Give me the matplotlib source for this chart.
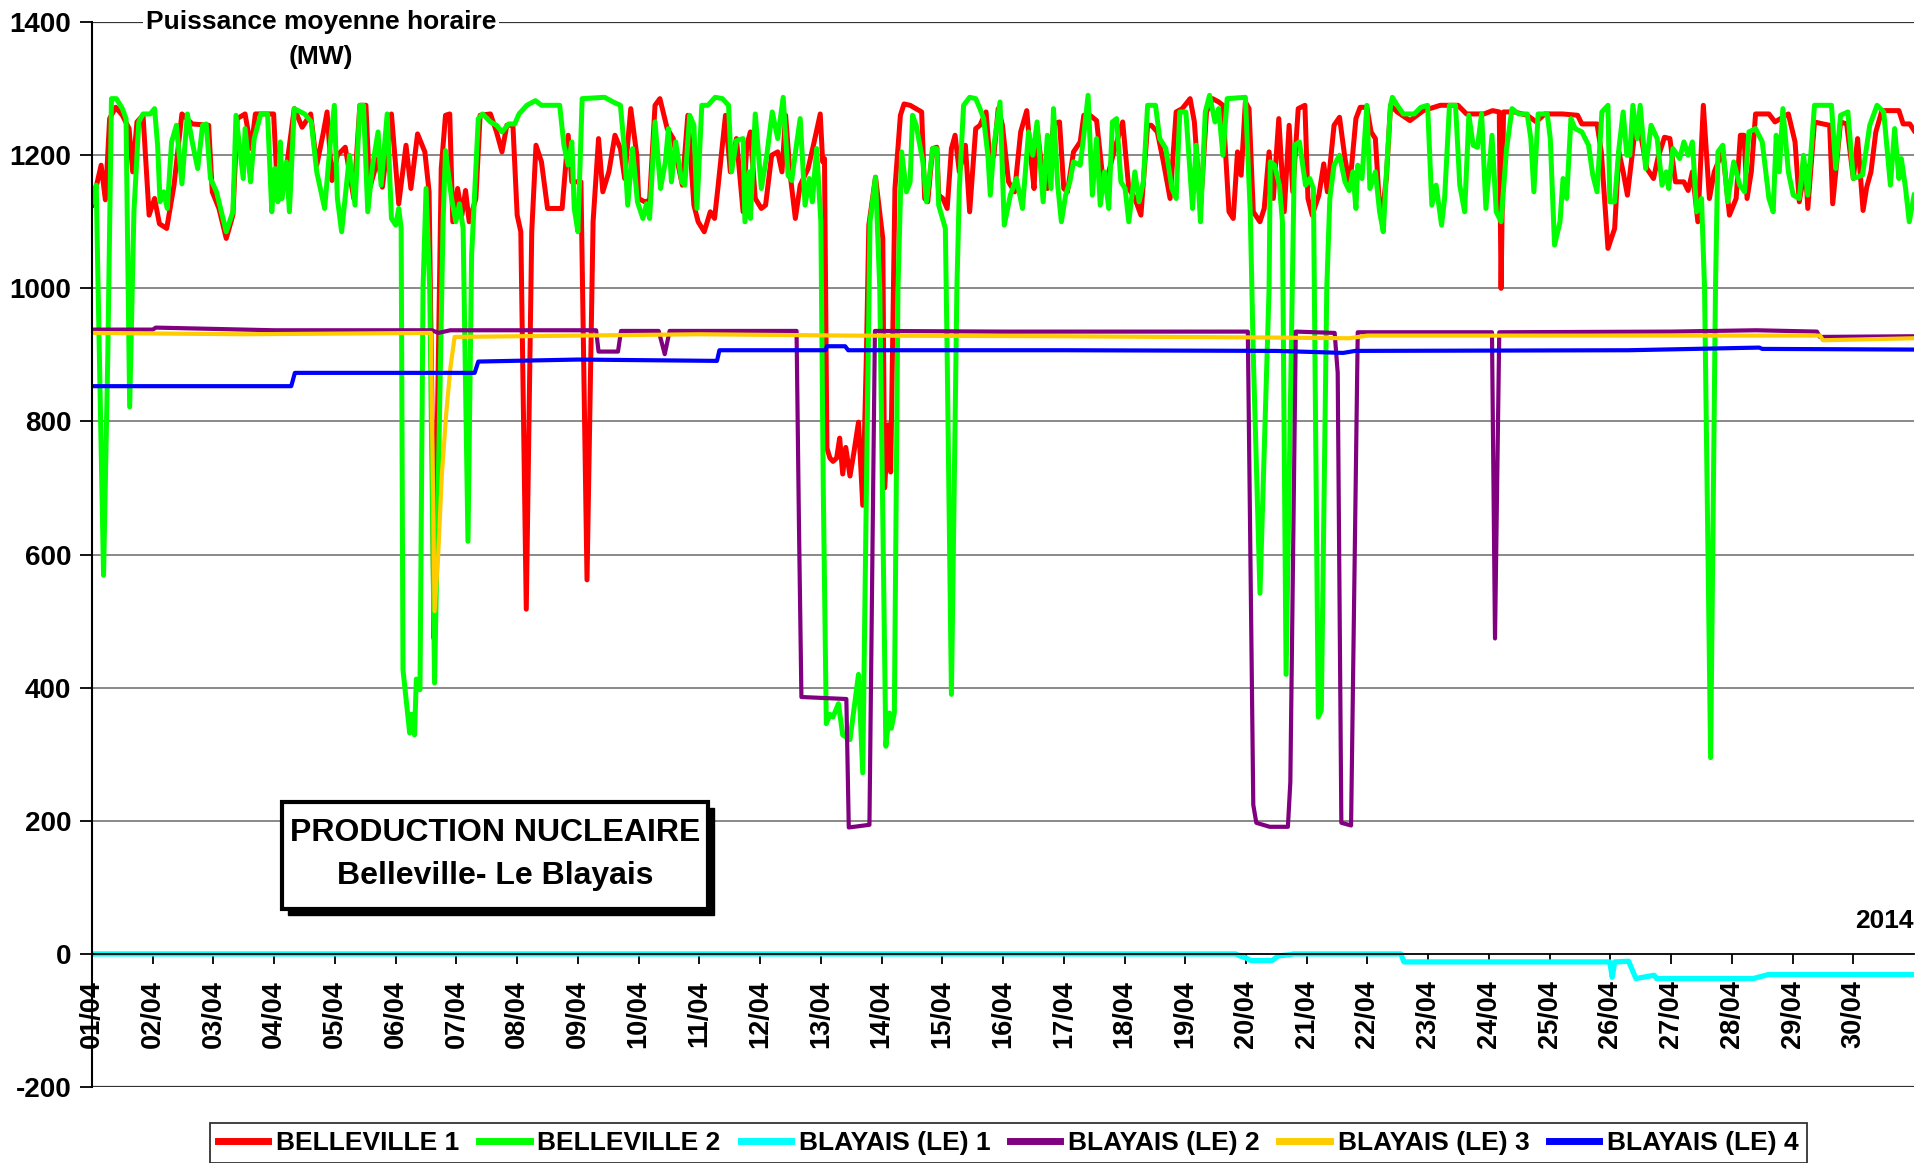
import matplotlib.pyplot as plt
from matplotlib.patches import Rectangle
from matplotlib.lines import Line2D

# hourly mean power (MW), x in days since 01/04 00:00
belleville1 = [(0.00, 1125), (0.15, 1185), (0.22, 1133), (0.29, 1255), (0.39, 1272), (0.50, 1260), (0.61, 1240),
               (0.67, 1175), (0.74, 1250), (0.84, 1260), (0.94, 1110), (1.03, 1135), (1.11, 1097), (1.23, 1090),
               (1.35, 1155), (1.48, 1262), (1.65, 1247), (1.92, 1245), (1.98, 1145), (2.09, 1120), (2.21, 1075),
               (2.32, 1110), (2.39, 1255), (2.52, 1262), (2.62, 1210), (2.69, 1262), (2.99, 1262), (3.06, 1135),
               (3.20, 1180), (3.33, 1270), (3.46, 1242), (3.60, 1262), (3.70, 1185), (3.80, 1230), (3.87, 1265),
               (3.95, 1162), (4.04, 1200), (4.17, 1212), (4.31, 1135), (4.41, 1275), (4.51, 1275), (4.57, 1150),
               (4.71, 1195), (4.78, 1152), (4.93, 1262), (5.05, 1127), (5.17, 1215), (5.25, 1150), (5.36, 1232),
               (5.48, 1205), (5.55, 1145), (5.60, 800), (5.63, 474), (5.68, 760), (5.75, 1180), (5.82, 1260),
               (5.89, 1262), (5.94, 1100), (6.02, 1150), (6.09, 1110), (6.15, 1147), (6.21, 1100), (6.32, 1135),
               (6.39, 1260), (6.56, 1262), (6.66, 1235), (6.75, 1205), (6.83, 1245), (6.93, 1245), (7.00, 1110),
               (7.06, 1085), (7.15, 518), (7.24, 1085), (7.31, 1215), (7.40, 1190), (7.50, 1120), (7.74, 1120),
               (7.84, 1230), (7.90, 1160), (8.05, 1160), (8.15, 562), (8.25, 1100), (8.34, 1225), (8.41, 1145),
               (8.51, 1175), (8.61, 1230), (8.70, 1210), (8.77, 1165), (8.87, 1270), (8.97, 1200), (9.00, 1135),
               (9.10, 1130), (9.18, 1132), (9.27, 1275), (9.35, 1285), (9.47, 1240), (9.57, 1225), (9.64, 1190),
               (9.72, 1155), (9.81, 1260), (9.91, 1125), (9.98, 1100), (10.08, 1085), (10.18, 1115), (10.25, 1105),
               (10.31, 1155), (10.43, 1260), (10.51, 1175), (10.61, 1225), (10.72, 1115), (10.78, 1215),
               (10.84, 1235), (10.92, 1135), (11.02, 1120), (11.09, 1125), (11.19, 1200), (11.29, 1205),
               (11.36, 1175), (11.42, 1260), (11.49, 1175), (11.58, 1105), (11.66, 1155), (11.79, 1180),
               (11.89, 1220), (11.99, 1262), (12.03, 1190), (12.06, 1195), (12.10, 760), (12.15, 745), (12.20, 740),
               (12.26, 745), (12.31, 775), (12.36, 721), (12.41, 761), (12.48, 718), (12.54, 751), (12.62, 799),
               (12.69, 674), (12.75, 900), (12.79, 1095), (12.90, 1167), (13.02, 1075), (13.05, 700), (13.11, 795),
               (13.15, 724), (13.22, 1150), (13.31, 1260), (13.37, 1277), (13.47, 1275), (13.66, 1265),
               (13.71, 1135), (13.76, 1130), (13.84, 1210), (13.91, 1212), (13.94, 1140), (14.01, 1135),
               (14.08, 1120), (14.15, 1210), (14.21, 1230), (14.28, 1175), (14.38, 1215), (14.45, 1115),
               (14.55, 1240), (14.62, 1245), (14.72, 1265), (14.79, 1185), (14.85, 1200), (14.92, 1270),
               (14.99, 1245), (15.09, 1160), (15.19, 1145), (15.29, 1235), (15.39, 1267), (15.46, 1195),
               (15.51, 1150), (15.56, 1240), (15.66, 1165), (15.73, 1150), (15.83, 1247), (15.93, 1250),
               (16.00, 1150), (16.06, 1145), (16.16, 1205), (16.27, 1220), (16.33, 1260), (16.43, 1260),
               (16.54, 1252), (16.64, 1167), (16.74, 1175), (16.84, 1210), (16.97, 1250), (17.07, 1150),
               (17.17, 1135), (17.27, 1110), (17.38, 1245), (17.44, 1245), (17.54, 1235), (17.64, 1190),
               (17.75, 1135), (17.85, 1265), (17.95, 1270), (18.08, 1285), (18.15, 1250), (18.25, 1120),
               (18.35, 1265), (18.45, 1285), (18.55, 1280), (18.62, 1275), (18.65, 1225), (18.72, 1115),
               (18.79, 1105), (18.86, 1205), (18.92, 1170), (18.99, 1280), (19.05, 1270), (19.12, 1115),
               (19.23, 1100), (19.30, 1120), (19.38, 1205), (19.45, 1135), (19.54, 1255), (19.63, 1115),
               (19.71, 1245), (19.77, 1145), (19.86, 1270), (19.97, 1275), (20.02, 1135), (20.09, 1110),
               (20.20, 1140), (20.28, 1187), (20.34, 1145), (20.45, 1245), (20.54, 1257), (20.63, 1195),
               (20.71, 1155), (20.81, 1255), (20.88, 1272), (20.99, 1272), (21.06, 1235), (21.13, 1225),
               (21.19, 1135), (21.24, 1110), (21.31, 1165), (21.38, 1275), (21.49, 1265), (21.70, 1252),
               (21.92, 1267), (22.20, 1275), (22.49, 1275), (22.63, 1262), (22.92, 1262), (23.06, 1267),
               (23.17, 1265), (23.20, 1000), (23.24, 1265), (23.42, 1265), (23.63, 1260), (23.78, 1250),
               (23.92, 1262), (24.21, 1262), (24.46, 1260), (24.53, 1247), (24.78, 1247), (24.85, 1205),
               (24.96, 1060), (25.07, 1090), (25.14, 1205), (25.21, 1175), (25.28, 1140), (25.39, 1225),
               (25.46, 1250), (25.60, 1180), (25.71, 1165), (25.78, 1195), (25.89, 1227), (25.98, 1225),
               (26.07, 1160), (26.21, 1160), (26.28, 1147), (26.35, 1175), (26.44, 1100), (26.53, 1275),
               (26.63, 1135), (26.71, 1175), (26.85, 1207), (26.96, 1110), (27.07, 1135), (27.14, 1230),
               (27.20, 1230), (27.25, 1135), (27.32, 1175), (27.39, 1262), (27.61, 1262), (27.71, 1250),
               (27.93, 1262), (28.04, 1220), (28.11, 1130), (28.21, 1185), (28.25, 1120), (28.36, 1250),
               (28.50, 1247), (28.61, 1245), (28.66, 1127), (28.79, 1250), (28.89, 1247), (29.00, 1165),
               (29.07, 1225), (29.16, 1117), (29.22, 1152), (29.29, 1175), (29.37, 1235), (29.47, 1267),
               (29.75, 1267), (29.82, 1247), (29.93, 1247), (30.00, 1237)]

belleville2 = [(0.00, 1130), (0.07, 1155), (0.09, 1050), (0.19, 569), (0.26, 900), (0.32, 1285), (0.40, 1285),
               (0.50, 1270), (0.56, 1255), (0.62, 822), (0.69, 1115), (0.77, 1250), (0.84, 1262), (0.96, 1262),
               (1.03, 1270), (1.08, 1215), (1.12, 1130), (1.18, 1145), (1.24, 1120), (1.31, 1220), (1.39, 1245),
               (1.48, 1157), (1.57, 1262), (1.65, 1220), (1.74, 1180), (1.82, 1245), (1.88, 1247), (1.95, 1165),
               (2.05, 1145), (2.21, 1085), (2.32, 1115), (2.37, 1260), (2.49, 1165), (2.52, 1240), (2.61, 1160),
               (2.67, 1225), (2.78, 1262), (2.89, 1262), (2.96, 1115), (3.01, 1180), (3.06, 1130), (3.10, 1220),
               (3.13, 1135), (3.20, 1190), (3.25, 1115), (3.33, 1270), (3.50, 1262), (3.61, 1250), (3.70, 1175),
               (3.83, 1120), (3.92, 1215), (3.99, 1275), (4.04, 1135), (4.11, 1085), (4.24, 1200), (4.33, 1125),
               (4.41, 1275), (4.47, 1275), (4.54, 1115), (4.62, 1185), (4.71, 1235), (4.76, 1155), (4.86, 1262),
               (4.93, 1105), (5.00, 1095), (5.05, 1120), (5.09, 1090), (5.12, 427), (5.23, 332), (5.26, 360),
               (5.31, 329), (5.34, 413), (5.40, 397), (5.45, 1000), (5.50, 1150), (5.56, 1000), (5.64, 407),
               (5.78, 1100), (5.82, 1207), (5.92, 1135), (5.99, 1100), (6.05, 1127), (6.11, 1090), (6.19, 620),
               (6.25, 1050), (6.36, 1255), (6.43, 1262), (6.56, 1250), (6.66, 1245), (6.75, 1235), (6.86, 1247),
               (6.96, 1247), (7.03, 1262), (7.16, 1275), (7.30, 1282), (7.40, 1275), (7.70, 1275), (7.77, 1215),
               (7.84, 1185), (7.90, 1220), (7.94, 1120), (8.00, 1085), (8.07, 1285), (8.44, 1287), (8.58, 1280),
               (8.70, 1275), (8.77, 1205), (8.82, 1125), (8.90, 1210), (8.98, 1130), (9.07, 1105), (9.13, 1127),
               (9.18, 1105), (9.27, 1250), (9.36, 1150), (9.44, 1190), (9.49, 1240), (9.54, 1160), (9.61, 1220),
               (9.71, 1160), (9.76, 1155), (9.84, 1260), (9.91, 1245), (9.96, 1120), (10.04, 1275), (10.14, 1275),
               (10.26, 1287), (10.38, 1285), (10.48, 1275), (10.53, 1175), (10.61, 1222), (10.72, 1225),
               (10.75, 1100), (10.82, 1175), (10.84, 1105), (10.92, 1262), (11.02, 1150), (11.11, 1200),
               (11.20, 1265), (11.29, 1225), (11.38, 1287), (11.46, 1170), (11.52, 1162), (11.59, 1210),
               (11.66, 1255), (11.74, 1125), (11.81, 1165), (11.86, 1130), (11.93, 1210), (12.00, 1100),
               (12.04, 700), (12.09, 346), (12.15, 360), (12.20, 356), (12.29, 376), (12.36, 329), (12.48, 322),
               (12.62, 420), (12.69, 272), (12.75, 700), (12.81, 1100), (12.90, 1167), (12.97, 1000), (13.07, 312),
               (13.13, 362), (13.16, 339), (13.21, 362), (13.27, 1000), (13.33, 1205), (13.41, 1145), (13.47, 1160),
               (13.51, 1260), (13.57, 1245), (13.68, 1190), (13.74, 1130), (13.84, 1210), (13.91, 1210),
               (13.94, 1125), (14.05, 1090), (14.08, 900), (14.15, 390), (14.24, 1000), (14.28, 1150),
               (14.35, 1275), (14.45, 1287), (14.55, 1285), (14.62, 1270), (14.68, 1255), (14.75, 1200),
               (14.79, 1140), (14.85, 1215), (14.95, 1280), (15.02, 1095), (15.12, 1140), (15.22, 1165),
               (15.32, 1120), (15.42, 1235), (15.49, 1200), (15.56, 1250), (15.66, 1130), (15.73, 1230),
               (15.79, 1150), (15.83, 1270), (15.90, 1155), (15.96, 1100), (16.03, 1140), (16.10, 1160),
               (16.16, 1190), (16.27, 1185), (16.33, 1230), (16.40, 1290), (16.47, 1140), (16.54, 1225),
               (16.60, 1125), (16.67, 1175), (16.74, 1120), (16.80, 1250), (16.87, 1255), (16.94, 1160),
               (17.01, 1150), (17.07, 1100), (17.17, 1175), (17.24, 1130), (17.31, 1160), (17.38, 1275),
               (17.51, 1275), (17.58, 1225), (17.68, 1210), (17.78, 1150), (17.85, 1135), (17.91, 1265),
               (18.01, 1265), (18.12, 1120), (18.18, 1215), (18.25, 1100), (18.33, 1265), (18.40, 1290),
               (18.49, 1250), (18.55, 1270), (18.62, 1200), (18.69, 1285), (18.99, 1287), (19.07, 1115),
               (19.12, 900), (19.23, 542), (19.38, 1000), (19.40, 1190), (19.47, 1185), (19.55, 1155),
               (19.60, 1100), (19.66, 420), (19.78, 1100), (19.80, 1215), (19.88, 1220), (19.98, 1155),
               (20.05, 1165), (20.11, 1150), (20.19, 356), (20.24, 366), (20.33, 1000), (20.38, 1135),
               (20.45, 1185), (20.54, 1200), (20.63, 1160), (20.70, 1147), (20.76, 1175), (20.81, 1120),
               (20.84, 1185), (20.91, 1165), (20.99, 1275), (21.04, 1150), (21.13, 1175), (21.20, 1115),
               (21.26, 1085), (21.31, 1170), (21.38, 1275), (21.41, 1287), (21.49, 1275), (21.59, 1262),
               (21.77, 1262), (21.88, 1272), (21.99, 1275), (22.06, 1125), (22.13, 1155), (22.22, 1095),
               (22.27, 1135), (22.35, 1275), (22.45, 1275), (22.52, 1155), (22.60, 1115), (22.67, 1260),
               (22.74, 1215), (22.81, 1212), (22.88, 1262), (22.95, 1120), (23.05, 1230), (23.12, 1115),
               (23.20, 1100), (23.29, 1210), (23.38, 1270), (23.49, 1262), (23.63, 1262), (23.69, 1225),
               (23.74, 1145), (23.81, 1262), (23.96, 1262), (24.01, 1225), (24.08, 1065), (24.17, 1100),
               (24.22, 1165), (24.28, 1135), (24.35, 1255), (24.42, 1240), (24.53, 1235), (24.64, 1215),
               (24.71, 1170), (24.78, 1145), (24.86, 1265), (24.96, 1275), (24.99, 1130), (25.07, 1130),
               (25.14, 1210), (25.21, 1265), (25.27, 1200), (25.32, 1200), (25.37, 1275), (25.44, 1225),
               (25.49, 1275), (25.58, 1180), (25.67, 1245), (25.77, 1225), (25.85, 1155), (25.92, 1175),
               (25.96, 1150), (26.03, 1210), (26.14, 1195), (26.21, 1220), (26.28, 1200), (26.35, 1220),
               (26.42, 1115), (26.50, 1135), (26.55, 1000), (26.65, 295), (26.73, 1000), (26.77, 1205),
               (26.85, 1215), (26.93, 1130), (27.03, 1190), (27.13, 1155), (27.21, 1145), (27.28, 1235),
               (27.39, 1240), (27.50, 1220), (27.61, 1135), (27.68, 1115), (27.73, 1230), (27.78, 1175),
               (27.84, 1270), (27.93, 1175), (28.01, 1140), (28.11, 1135), (28.18, 1200), (28.25, 1140),
               (28.36, 1275), (28.64, 1275), (28.71, 1180), (28.79, 1260), (28.91, 1265), (29.00, 1165),
               (29.15, 1170), (29.27, 1245), (29.39, 1275), (29.50, 1265), (29.61, 1155), (29.68, 1240),
               (29.75, 1165), (29.79, 1195), (29.86, 1150), (29.92, 1100), (30.00, 1140)]

blayais1 = [(0, 0), (18.83, 0), (18.90, -3), (19.00, -6), (19.08, -10), (19.43, -10), (19.53, -3), (19.73, -1),
            (19.78, 0), (21.55, 0), (21.60, -12), (24.99, -12), (25.03, -35), (25.07, -12), (25.30, -11),
            (25.42, -37), (25.72, -32), (25.76, -37), (27.35, -37), (27.60, -31), (30.00, -31)]

blayais2 = [(0, 938), (1.00, 938), (1.05, 941), (3.00, 937), (5.60, 937), (5.70, 933), (5.90, 937), (8.30, 937),
            (8.34, 905), (8.66, 905), (8.71, 936), (9.33, 936), (9.43, 901), (9.51, 936), (11.60, 936),
            (11.64, 643), (11.68, 386), (12.42, 383), (12.46, 190), (12.80, 194), (12.89, 936), (15.00, 935),
            (19.03, 935), (19.12, 224), (19.17, 197), (19.39, 191), (19.69, 191), (19.73, 258), (19.82, 935),
            (20.46, 933), (20.51, 873), (20.57, 197), (20.73, 193), (20.84, 934), (23.05, 934), (23.10, 474),
            (23.17, 934), (26.00, 935), (27.40, 937), (28.40, 935), (28.45, 927), (30.00, 928)]

blayais3 = [(0, 933), (2.50, 931), (5.58, 933), (5.64, 515), (5.70, 600), (5.76, 720), (5.83, 810), (5.90, 880),
            (5.97, 927), (10.00, 931), (12.50, 929), (16.00, 928), (19.50, 926), (20.70, 925), (21.00, 929),
            (28.45, 929), (28.50, 922), (30.00, 925)]

blayais4 = [(0, 853), (3.28, 853), (3.34, 873), (6.30, 873), (6.36, 890), (8.00, 893), (10.29, 891), (10.33, 907),
            (12.08, 907), (12.10, 913), (12.40, 913), (12.45, 907), (16.00, 907), (19.50, 906), (20.60, 903),
            (20.80, 906), (25.30, 907), (27.45, 911), (27.50, 909), (30.00, 908)]

names = ['BELLEVILLE 1', 'BELLEVILLE 2', 'BLAYAIS (LE) 1', 'BLAYAIS (LE) 2', 'BLAYAIS (LE) 3', 'BLAYAIS (LE) 4']
colors = ['#FF0000', '#00FF00', '#00FFFF', '#800080', '#FFCC00', '#0000FF']
widths = [3.6, 3.6, 3.8, 3.0, 3.0, 3.0]
day_labels = ['%02d/04' % d for d in range(1, 31)]

plt.rcParams['font.family'] = ['Liberation Sans', 'DejaVu Sans']
plt.rcParams['font.weight'] = 'bold'
plt.rcParams['axes.unicode_minus'] = False

fig = plt.figure(figsize=(19.21, 11.63), dpi=100)
ax = fig.add_axes([0.0479, 0.0653, 0.9485, 0.9157])

for y in range(200, 1400, 200):
    ax.axhline(y, color='#808080', lw=1.3, zorder=0)
ax.axhline(1400, color='#333333', lw=1.6, zorder=0)
ax.axhline(-200, color='#333333', lw=1.6, zorder=0)

series = [belleville1, belleville2, blayais1, blayais2, blayais3, blayais4]
for data, name, c, w in zip(series, names, colors, widths):
    t, v = zip(*data)
    ax.plot(t, v, color=c, lw=w, label=name, solid_joinstyle='round')

ax.set_xlim(0, 30)
ax.set_ylim(-200, 1400)
ax.set_yticks(range(-200, 1401, 200))
ax.set_xticks(range(30))
ax.set_xticklabels(day_labels)
ax.tick_params(axis='x', direction='out', length=7, width=1.3, pad=12, labelsize=19.5, labelrotation=90)
ax.tick_params(axis='y', direction='out', length=9, width=1.3, pad=6, labelsize=20)
for lab in ax.get_xticklabels() + ax.get_yticklabels():
    lab.set_fontweight('bold')

ax.spines['top'].set_visible(False)
ax.spines['right'].set_visible(False)
ax.spines['bottom'].set_position(('data', 0))
ax.spines['bottom'].set_linewidth(1.3)
ax.spines['left'].set_linewidth(1.5)

ax.text(3.77, 1400, 'Puissance moyenne horaire', ha='center', va='center', fontsize=19,
        bbox=dict(facecolor='white', edgecolor='none', pad=2))
ax.text(3.77, 1347, '(MW)', ha='center', va='center', fontsize=19)
ax.text(30, 50, '2014', ha='right', va='center', fontsize=19)

# title box with drop shadow
fig.add_artist(Rectangle((0.1500, 0.2130), 0.2218, 0.0920, transform=fig.transFigure,
                         facecolor='black', edgecolor='black', zorder=5))
fig.add_artist(Rectangle((0.1468, 0.2184), 0.2218, 0.0920, transform=fig.transFigure,
                         facecolor='white', edgecolor='black', lw=3, zorder=6))
fig.text(0.2577, 0.2838, 'PRODUCTION NUCLEAIRE', ha='center', va='center', fontsize=23, zorder=7)
fig.text(0.2577, 0.2468, 'Belleville- Le Blayais', ha='center', va='center', fontsize=23, zorder=7)

handles = [Line2D([], [], color=c, lw=5) for c in colors]
leg = fig.legend(handles, names, loc='upper center', bbox_to_anchor=(0.525, 0.0344), ncol=6,
                 frameon=True, fancybox=False, edgecolor='black', fontsize=19, handlelength=1.9,
                 handletextpad=0.3, columnspacing=0.75, borderpad=0.3, borderaxespad=0)
leg.get_frame().set_linewidth(1.3)

fig.savefig('out.png', dpi=100)
